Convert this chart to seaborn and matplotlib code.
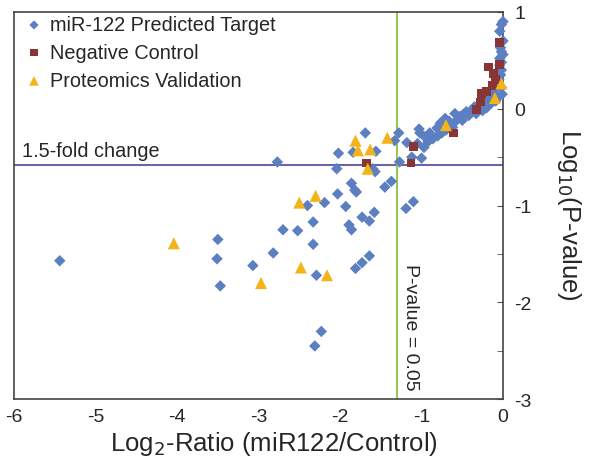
import matplotlib
matplotlib.use("Agg")
import matplotlib.pyplot as plt
import pandas as pd
import seaborn as sns
import numpy as np

# miR-122 predicted targets (log2 ratio, log10 p-value)
target_x = [-5.44, -3.50, -3.51, -3.47, -3.07, -2.82, -2.70, -2.52, -2.40, -2.19,
            -2.03, -1.86, -1.82, -1.80, -1.93, -1.45, -1.37, -1.19, -1.10, -2.33,
            -2.33, -1.89, -1.86, -1.73, -1.64, -1.58, -2.29, -1.81, -1.73, -1.64,
            -2.23, -2.31, -2.77, -2.02, -2.04, -1.69, -1.84, -1.56, -1.33, -1.28,
            -1.18, -1.57, -1.60, -1.27, -1.12, -1.00, -1.03, -1.02, -0.96, -0.90,
            -0.86, -0.81, -0.77, -0.75, -0.71, -0.66, -0.62, -0.59, -0.57, -0.53,
            -0.49, -0.45, -0.42, -0.38, -0.35, -0.30, -0.27, -0.22, -0.18, -0.15,
            -0.12, -0.10, -0.07, -0.05, -0.03, -0.02, -0.04, -0.02, -0.04, 0.00,
            -0.02, -0.03, 0.00, -0.04, -0.02, 0.00, -0.02, -0.01, -0.06, -0.09,
            -0.14, -0.20, -0.25, -0.33, -0.50, -0.63, -0.70, -0.80, -0.92, -1.05,
            -0.97]
target_y = [-1.57, -1.35, -1.55, -1.83, -1.62, -1.49, -1.25, -1.26, -1.00, -0.97,
            -0.88, -0.77, -0.84, -0.86, -1.01, -0.81, -0.75, -1.03, -0.96, -1.17,
            -1.40, -1.20, -1.25, -1.12, -1.16, -1.07, -1.72, -1.65, -1.59, -1.52,
            -2.30, -2.45, -0.55, -0.46, -0.62, -0.25, -0.45, -0.44, -0.33, -0.25,
            -0.35, -0.65, -0.62, -0.55, -0.50, -0.51, -0.21, -0.25, -0.29, -0.25,
            -0.31, -0.20, -0.15, -0.25, -0.10, -0.13, -0.19, -0.05, -0.12, -0.08,
            -0.06, -0.03, -0.07, -0.01, 0.02, 0.03, 0.05, 0.10, 0.09, 0.13,
            0.18, 0.20, 0.25, 0.30, 0.35, 0.40, 0.45, 0.48, 0.52, 0.56,
            0.59, 0.63, 0.70, 0.80, 0.87, 0.90, 0.22, 0.15, 0.12, 0.08,
            0.06, 0.01, -0.02, -0.05, -0.12, -0.16, -0.22, -0.28, -0.34, -0.36,
            -0.40]

# negative controls
control_x = [-0.04, -0.04, -0.18, -0.12, -0.09, -0.13, -0.20, -0.26, -0.28, -0.33,
             -0.61, -1.10, -1.13, -1.68]
control_y = [0.68, 0.46, 0.43, 0.36, 0.30, 0.24, 0.18, 0.16, 0.07, -0.01,
             -0.25, -0.39, -0.56, -0.56]

# proteomics validation
prot_x = [-4.04, -2.97, -2.50, -2.30, -2.48, -2.16, -1.81, -1.78, -1.63, -1.42,
          -1.66, -0.70, -0.10, -0.02]
prot_y = [-1.39, -1.80, -0.97, -0.90, -1.64, -1.72, -0.33, -0.43, -0.42, -0.30,
          -0.62, -0.17, 0.11, 0.26]

labels = ["miR-122 Predicted Target", "Negative Control", "Proteomics Validation"]
fold_line = -0.585
pval_line = -1.30

df = pd.concat([
    pd.DataFrame({"x": target_x, "y": target_y, "Type": labels[0]}),
    pd.DataFrame({"x": control_x, "y": control_y, "Type": labels[1]}),
    pd.DataFrame({"x": prot_x, "y": prot_y, "Type": labels[2]}),
])

sns.set_style("white")
plt.rcParams["font.family"] = ["Liberation Sans", "DejaVu Sans"]
plt.rcParams["axes.unicode_minus"] = False

fig = plt.figure(figsize=(5.89, 4.60), dpi=100)
ax = fig.add_axes([0.024, 0.130, 0.830, 0.842])

ax.axhline(fold_line, color="#6F63A8", lw=1.5, zorder=1)
ax.axvline(pval_line, color="#93C852", lw=1.5, zorder=1)

palette = {labels[0]: "#5B7FC0", labels[1]: "#8A3535", labels[2]: "#F2B419"}
markers = {labels[0]: "D", labels[1]: "s", labels[2]: "^"}
sizes = {labels[0]: 34, labels[1]: 40, labels[2]: 75}
for lab in labels:
    sns.scatterplot(data=df[df["Type"] == lab], x="x", y="y", color=palette[lab],
                    marker=markers[lab], s=sizes[lab], edgecolor="none",
                    label=lab, ax=ax, zorder=3, clip_on=False)

ax.set_xlim(-6, 0)
ax.set_ylim(-3, 1)
ax.set_xticks(range(-6, 1))
ax.set_yticks(range(-3, 2))
ax.set_yticks(np.arange(-2.5, 1, 1.0), minor=True)
ax.yaxis.tick_right()
ax.yaxis.set_label_position("right")
ax.tick_params(axis="x", length=0, labelsize=14, pad=6)
ax.tick_params(axis="y", which="both", direction="in", length=4, labelsize=14,
               pad=8, right=True, color="#555555")

for s in ax.spines.values():
    s.set_color("#444444")
    s.set_linewidth(1.2)

ax.set_xlabel("Log$_2$-Ratio (miR122/Control)", fontsize=18.5, labelpad=3)
ax.set_ylabel("Log$_{10}$(P-value)", fontsize=18.5, rotation=270, labelpad=37)
ax.xaxis.label.set_x(0.532)
ax.yaxis.label.set_y(0.478)

ax.text(-5.9, fold_line + 0.06, "1.5-fold change", fontsize=14.3, ha="left",
        va="bottom", bbox=dict(facecolor="white", edgecolor="none", pad=1))
ax.text(pval_line + 0.06, -2.25, "P-value = 0.05", fontsize=14, rotation=270,
        ha="left", va="center")

leg = ax.legend(loc="upper left", bbox_to_anchor=(0.0, 1.012), frameon=False,
                fontsize=14.3, handletextpad=0.2, borderaxespad=0.1,
                labelspacing=0.45, handlelength=1.2, markerscale=0.8, borderpad=0.3)

fig.savefig("out.png", dpi=100)
